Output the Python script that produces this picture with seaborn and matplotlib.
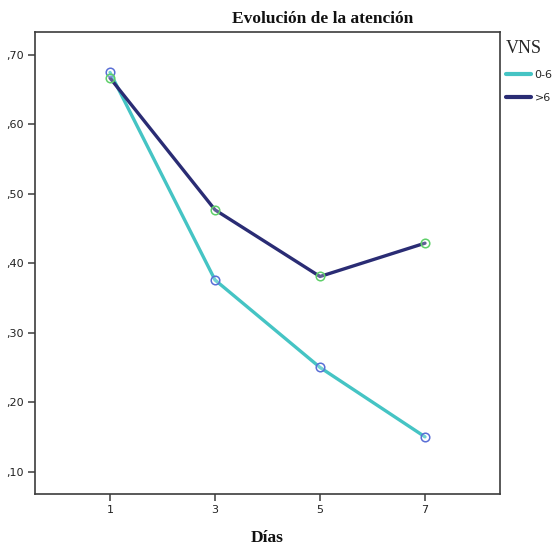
import matplotlib
matplotlib.use("Agg")
import matplotlib.pyplot as plt
from matplotlib.ticker import FuncFormatter
import seaborn as sns
import pandas as pd

# Attention scores per day, split by VNS group
days = [1, 3, 5, 7]
groups = ["0-6", ">6"]
attention_0_6 = [0.675, 0.376, 0.250, 0.150]
attention_gt6 = [0.667, 0.477, 0.381, 0.429]
y_ticks = [0.10, 0.20, 0.30, 0.40, 0.50, 0.60, 0.70]

line_colors = {"0-6": "#45c4c4", ">6": "#2a2c74"}
marker_edges = {"0-6": "#5a6fd6", ">6": "#5fd06a"}

df = pd.DataFrame({
    "Días": days * 2,
    "Atención": attention_0_6 + attention_gt6,
    "VNS": [groups[0]] * len(days) + [groups[1]] * len(days),
})

sns.set_theme(style="white")
plt.rcParams["font.family"] = ["DejaVu Sans"]

fig = plt.figure(figsize=(5.55, 5.45), dpi=100)
ax = fig.add_axes([0.063, 0.094, 0.838, 0.847])

sns.lineplot(data=df, x="Días", y="Atención", hue="VNS", hue_order=groups,
             palette=line_colors, linewidth=2.4, ax=ax, legend=True)

for g in groups:
    sub = df[df["VNS"] == g]
    sns.scatterplot(data=sub, x="Días", y="Atención", ax=ax, s=38,
                    facecolor=(1, 1, 1, 0.25), edgecolor=marker_edges[g],
                    linewidth=1.1, zorder=3, legend=False)

ax.set_xlim(-0.43, 8.43)
ax.set_ylim(0.068, 0.733)
ax.set_xticks(days)
ax.set_xticklabels([str(d) for d in days])
ax.set_yticks(y_ticks)
ax.yaxis.set_major_formatter(FuncFormatter(lambda v, _: f"{v:.2f}"[1:].replace(".", ",")))

for side in ["left", "right", "top", "bottom"]:
    ax.spines[side].set_color("#3c3c3c")
    ax.spines[side].set_linewidth(1.2)

ax.tick_params(axis="both", which="major", direction="out", length=5, width=1.1,
               color="#3c3c3c", labelsize=8, labelcolor="#222222", pad=3,
               left=True, bottom=True)

ax.set_ylabel("")
ax.set_xlabel("Días", fontfamily="Liberation Serif", fontweight="bold",
              fontsize=12.5, color="#111111", labelpad=11)

fig.text(0.582, 0.966, "Evolución de la atención", ha="center", va="center",
         fontfamily="Liberation Serif", fontweight="bold", fontsize=12.5,
         color="#111111")

handles, labels = ax.get_legend_handles_labels()
leg = ax.legend(handles, labels, title="VNS", loc="upper left",
                bbox_to_anchor=(0.903, 0.934), bbox_transform=fig.transFigure,
                frameon=False, fontsize=8, handlelength=2.3, handletextpad=0.3,
                labelspacing=1.15, borderaxespad=0, alignment="left")
leg.get_title().set_fontfamily("Liberation Serif")
leg.get_title().set_fontsize(13)
for h in leg.get_lines():
    h.set_linewidth(3)

fig.savefig("out.png", dpi=100)
